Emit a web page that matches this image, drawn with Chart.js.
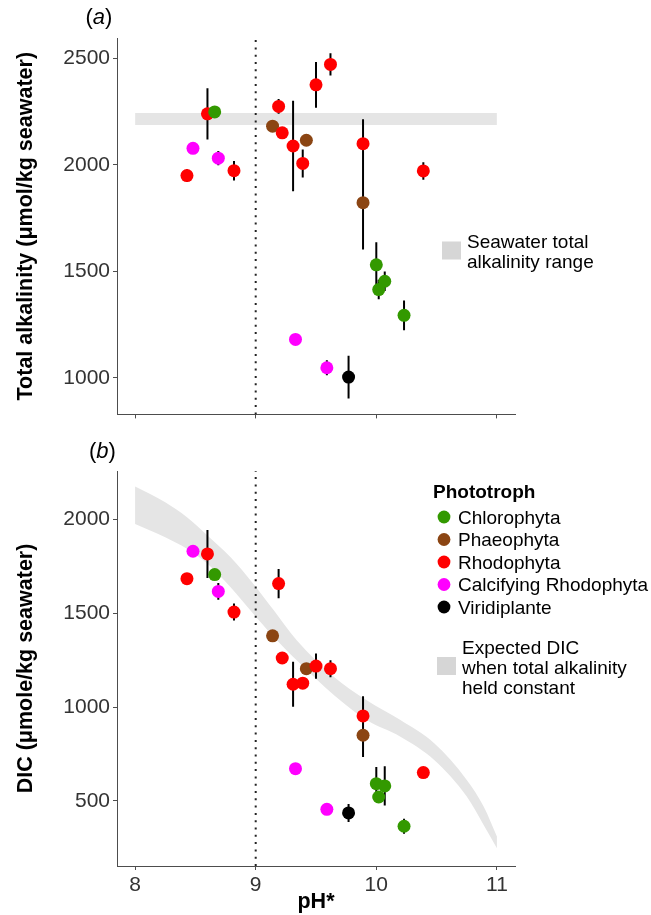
<!DOCTYPE html>
<html>
<head>
<meta charset="utf-8">
<title>Total alkalinity and DIC vs pH*</title>
<script src="https://cdn.jsdelivr.net/npm/chart.js@4.4.1/dist/chart.umd.min.js"></script>
<style>
  html, body { margin: 0; padding: 0; background: #fff; }
  #wrap { position: relative; width: 651px; height: 915px; }
  #chartA { position: absolute; left: 0; top: 0; }
  #chartB { position: absolute; left: 0; top: 430px; }
</style>
</head>
<body>
<div id="wrap">
  <canvas id="chartA" width="651" height="430"></canvas>
  <canvas id="chartB" width="651" height="485"></canvas>
</div>
<script>
const FONT = '"Liberation Sans", Arial, Helvetica, sans-serif';

// groups
const groups = ['Chlorophyta', 'Phaeophyta', 'Rhodophyta', 'Calcifying Rhodophyta', 'Viridiplante'];
const groupColors = ['#339900', '#8B4513', '#FF0000', '#FF00FF', '#000000'];
const groupOrder = [1, 3, 2, 1, 1]; // who sits on top when points overlap

// pH* of each sample
const phChloro = [8.66, 10.00, 10.07, 10.02, 10.23];
const phPhaeo  = [9.14, 9.42, 9.89];
const phRhodo  = [8.43, 8.60, 8.82, 9.19, 9.22, 9.31, 9.39, 9.50, 9.62, 9.89, 10.39];
const phCalc   = [8.48, 8.69, 9.33, 9.59];
const phViri   = [9.77];

// total alkalinity (umol/kg) and its sd
const taChloro = [2249, 1531, 1454, 1415, 1294];
const taPhaeo  = [2182, 2116, 1823];
const taRhodo  = [1950, 2240, 1973, 2275, 2151, 2089, 2007, 2376, 2472, 2100, 1972];
const taCalc   = [2078, 2032, 1181, 1048];
const taViri   = [1004];
const taSdChloro = [0, 106, 46, 46, 70];
const taSdPhaeo  = [0, 0, 220];
const taSdRhodo  = [30, 120, 46, 35, 0, 212, 66, 107, 52, 115, 41];
const taSdCalc   = [0, 33, 0, 35];
const taSdViri   = [100];

// DIC (umole/kg) and its sd
const dicChloro = [1707, 592, 580, 521, 365];
const dicPhaeo  = [1380, 1205, 850];
const dicRhodo  = [1685, 1817, 1507, 1659, 1262, 1122, 1128, 1219, 1205, 953, 651];
const dicCalc   = [1831, 1617, 672, 455];
const dicViri   = [436];
const dicSdChloro = [0, 89, 105, 0, 40];
const dicSdPhaeo  = [0, 0, 116];
const dicSdRhodo  = [0, 128, 45, 78, 0, 120, 25, 67, 45, 105, 0];
const dicSdCalc   = [0, 45, 0, 0];
const dicSdViri   = [48];

// seawater TA range
const seawaterPh = [8, 11];
const seawaterTaLow = 2187;
const seawaterTaHigh = 2244;

// expected DIC at constant TA
const expectedPh   = [8.0, 8.25, 8.43, 8.6, 8.79, 8.98, 9.15, 9.34, 9.65, 9.92, 10.2, 10.48, 10.75, 10.89, 11.0];
const expectedHigh = [2176, 2092, 2012, 1915, 1800, 1658, 1516, 1356, 1161, 1037, 931, 807, 612, 470, 310];
const expectedLow  = [1977, 1906, 1844, 1764, 1640, 1498, 1374, 1250, 1064, 931, 842, 718, 523, 372, 248];

const refPh = 9;
const phTicks = [8, 9, 10, 11];
const taTicks = [1000, 1500, 2000, 2500];
const dicTicks = [500, 1000, 1500, 2000];
const phRange = [7.85, 11.15];
const taRange = [829, 2596];
const dicRange = [153, 2259];

const seawaterLabel = ['Seawater total', 'alkalinity range'];
const expectedLabel = ['Expected DIC', 'when total alkalinity', 'held constant'];
const legendTitle = 'Phototroph';

const phByGroup = [phChloro, phPhaeo, phRhodo, phCalc, phViri];
const taByGroup = [taChloro, taPhaeo, taRhodo, taCalc, taViri];
const taSdByGroup = [taSdChloro, taSdPhaeo, taSdRhodo, taSdCalc, taSdViri];
const dicByGroup = [dicChloro, dicPhaeo, dicRhodo, dicCalc, dicViri];
const dicSdByGroup = [dicSdChloro, dicSdPhaeo, dicSdRhodo, dicSdCalc, dicSdViri];

const axisColor = '#4d4d4d';
const bandColor = '#e5e5e5';

function pointSets(values) {
  return groups.map((g, i) => ({
    label: g,
    data: phByGroup[i].map((ph, j) => ({ x: ph, y: values[i][j] })),
    backgroundColor: groupColors[i],
    borderColor: groupColors[i],
    pointRadius: 6.5,
    pointBorderWidth: 0,
    order: groupOrder[i]
  }));
}

// one line dataset, broken by nulls, for all the error bars
function errorSet(values, sds) {
  const data = [];
  groups.forEach((g, i) => {
    phByGroup[i].forEach((ph, j) => {
      const sd = sds[i][j];
      if (!sd) return;
      data.push({ x: ph, y: values[i][j] - sd }, { x: ph, y: values[i][j] + sd }, { x: ph, y: null });
    });
  });
  return { type: 'line', data, borderColor: '#000', borderWidth: 2, pointRadius: 0, spanGaps: false, fill: false, order: 5 };
}

function refLine(range) {
  return {
    type: 'line',
    data: [{ x: refPh, y: range[0] }, { x: refPh, y: range[1] }],
    borderColor: '#222', borderWidth: 2, borderDash: [2, 5.3],
    pointRadius: 0, fill: false, order: 6
  };
}

function bandSets(xs, lows, highs, smooth) {
  const base = { type: 'line', pointRadius: 0, borderWidth: 0, borderColor: 'rgba(0,0,0,0)', order: 9 };
  if (smooth) base.cubicInterpolationMode = 'monotone';
  return [
    Object.assign({}, base, { data: xs.map((x, i) => ({ x, y: lows[i] })), fill: false }),
    Object.assign({}, base, { data: xs.map((x, i) => ({ x, y: highs[i] })), fill: '-1', backgroundColor: bandColor })
  ];
}

function drawTag(ctx, letter, x, y) {
  ctx.fillStyle = '#000';
  ctx.textAlign = 'left';
  ctx.textBaseline = 'alphabetic';
  ctx.font = '22px ' + FONT;
  ctx.fillText('(', x, y);
  let w = ctx.measureText('(').width;
  ctx.font = 'italic 22px ' + FONT;
  ctx.fillText(letter, x + w, y);
  w += ctx.measureText(letter).width;
  ctx.font = '22px ' + FONT;
  ctx.fillText(')', x + w, y);
}

function axes(range, ticks, title, showX) {
  const line = { drawOnChartArea: false, drawTicks: true, tickLength: 4, color: axisColor, lineWidth: 1 };
  const border = { display: true, color: axisColor, width: 1 };
  const tickFont = { family: FONT, size: 21 };
  const titleFont = { family: FONT, size: 21.5, weight: 'bold' };
  const plain = v => String(v);
  return {
    x: {
      type: 'linear', min: phRange[0], max: phRange[1],
      afterBuildTicks: s => { s.ticks = phTicks.map(v => ({ value: v })); },
      afterFit: s => { s.height = showX ? 49 : 12; },
      grid: line, border,
      ticks: { display: showX, font: tickFont, color: '#333', padding: 3, callback: plain },
      title: { display: showX, text: 'pH*', font: titleFont, color: '#000', padding: { top: 0, bottom: 0 } }
    },
    y: {
      type: 'linear', min: range[0], max: range[1],
      afterBuildTicks: s => { s.ticks = ticks.map(v => ({ value: v })); },
      afterFit: s => { s.width = 117; },
      grid: line, border,
      ticks: { font: tickFont, color: '#333', padding: 3, callback: plain },
      title: { display: true, text: title, font: titleFont, color: '#000', padding: { top: 13, bottom: 0 } }
    }
  };
}

const baseOptions = (padTop, scales) => ({
  responsive: false,
  animation: false,
  events: [],
  layout: { padding: { left: 0, right: 136, top: padTop, bottom: 0 }, autoPadding: false },
  plugins: { legend: { display: false }, tooltip: { enabled: false } },
  scales
});

// panel (a) annotations
const annotA = {
  id: 'annotA',
  afterDraw(chart) {
    const ctx = chart.ctx;
    ctx.save();
    drawTag(ctx, 'a', 85.5, 24);
    ctx.fillStyle = '#d6d6d6';
    ctx.fillRect(442, 241.5, 19, 18);
    ctx.fillStyle = '#000';
    ctx.font = '19px ' + FONT;
    ctx.textAlign = 'left';
    ctx.textBaseline = 'alphabetic';
    seawaterLabel.forEach((t, i) => ctx.fillText(t, 467, 247.5 + i * 20));
    ctx.restore();
  }
};

// panel (b) annotations + phototroph legend
const annotB = {
  id: 'annotB',
  afterDraw(chart) {
    const ctx = chart.ctx;
    ctx.save();
    drawTag(ctx, 'b', 89, 27.5);
    ctx.textAlign = 'left';
    ctx.textBaseline = 'alphabetic';
    ctx.fillStyle = '#000';
    ctx.font = 'bold 19px ' + FONT;
    ctx.fillText(legendTitle, 433, 68);
    ctx.font = '19px ' + FONT;
    groups.forEach((g, i) => {
      const cy = 87 + i * 22.5;
      ctx.fillStyle = groupColors[i];
      ctx.beginPath();
      ctx.arc(444, cy, 6.4, 0, Math.PI * 2);
      ctx.fill();
      ctx.fillStyle = '#000';
      ctx.fillText(g, 458, cy + 6.8);
    });
    ctx.fillStyle = '#d6d6d6';
    ctx.fillRect(437, 227, 19, 18);
    ctx.fillStyle = '#000';
    expectedLabel.forEach((t, i) => ctx.fillText(t, 462, 224 + i * 20));
    ctx.restore();
  }
};

new Chart(document.getElementById('chartA'), {
  type: 'scatter',
  data: {
    datasets: [
      ...pointSets(taByGroup),
      errorSet(taByGroup, taSdByGroup),
      refLine(taRange),
      ...bandSets(seawaterPh, [seawaterTaLow, seawaterTaLow], [seawaterTaHigh, seawaterTaHigh], false)
    ]
  },
  options: baseOptions(38, axes(taRange, taTicks, 'Total alkalinity (μmol/kg seawater)', false)),
  plugins: [annotA]
});

new Chart(document.getElementById('chartB'), {
  type: 'scatter',
  data: {
    datasets: [
      ...pointSets(dicByGroup),
      errorSet(dicByGroup, dicSdByGroup),
      refLine(dicRange),
      ...bandSets(expectedPh, expectedLow, expectedHigh, true)
    ]
  },
  options: baseOptions(41, axes(dicRange, dicTicks, 'DIC (μmole/kg seawater)', true)),
  plugins: [annotB]
});
</script>
</body>
</html>
